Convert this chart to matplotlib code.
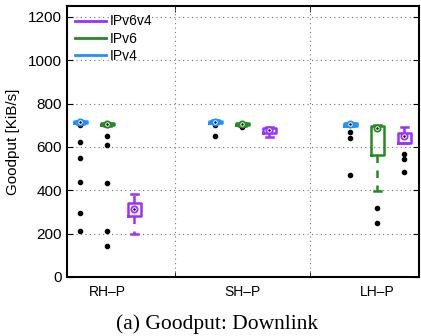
import numpy as np
import matplotlib; matplotlib.use("Agg")
import matplotlib.pyplot as plt

# categories and series
groups = ["RH\u2013P", "SH\u2013P", "LH\u2013P"]
series = ["IPv4", "IPv6", "IPv6v4"]
colors = {"IPv4": "#1E90FF", "IPv6": "#228B22", "IPv6v4": "#9B30FF"}

# box statistics per series, one entry per group (KiB/s)
med   = {"IPv4": [714, 717, 704], "IPv6": [704, 704, 689], "IPv6v4": [312, 677, 652]}
q1    = {"IPv4": [709, 712, 698], "IPv6": [700, 700, 563], "IPv6v4": [280, 665, 620]}
q3    = {"IPv4": [718, 721, 709], "IPv6": [708, 708, 698], "IPv6v4": [340, 688, 665]}
wlo   = {"IPv4": [706, 709, 695], "IPv6": [698, 697, 398], "IPv6v4": [198, 647, 617]}
whi   = {"IPv4": [721, 724, 712], "IPv6": [710, 711, 700], "IPv6v4": [382, 692, 691]}
fliers = {
    "IPv4":   [[701, 624, 548, 440, 294, 212], [701, 652], [668, 643, 468]],
    "IPv6":   [[700, 652, 609, 432, 212, 144], [695, 690], [317, 248]],
    "IPv6v4": [[], [], [566, 543, 483]],
}
offset = {"IPv4": -0.2, "IPv6": 0.0, "IPv6v4": 0.2}

plt.rcParams["font.family"] = ["Liberation Sans", "DejaVu Sans"]
fig = plt.figure(figsize=(4.21, 3.36), dpi=100)
ax = fig.add_axes([0.159, 0.176, 0.837, 0.806])

for s in series:
    c = colors[s]
    stats = []
    for i in range(len(groups)):
        stats.append(dict(med=med[s][i], q1=q1[s][i], q3=q3[s][i],
                          whislo=wlo[s][i], whishi=whi[s][i], fliers=[]))
    pos = np.arange(1, len(groups) + 1) + offset[s]
    ax.bxp(stats, positions=pos, widths=0.1, showfliers=False,
           boxprops=dict(color=c, lw=1.8),
           whiskerprops=dict(color=c, lw=1.8, ls=(0, (3, 3))),
           capprops=dict(color=c, lw=1.8),
           medianprops=dict(color=c, lw=0), manage_ticks=False)
    ax.plot(pos, med[s], "o", ms=4.5, mfc="white", mec=c, mew=1.3, zorder=4)
    ax.plot(pos, med[s], ".", ms=1.5, color="k", zorder=5)
    for i, fl in enumerate(fliers[s]):
        ax.plot([pos[i]] * len(fl), fl, "o", ms=3, color="k", zorder=3)
    ax.plot([], [], color=c, lw=2, label=s)

ax.set_xlim(0.7, 3.31)
ax.set_ylim(0, 1250)
ax.set_yticks(range(0, 1201, 200))
ax.set_xticks([1, 2, 3])
ax.set_xticklabels(groups, fontsize=10)
ax.set_xticks([1.5, 2.5], minor=True)
ax.tick_params(axis="x", which="major", length=0, pad=6)
ax.tick_params(axis="x", which="minor", direction="in", length=4, top=True)
ax.tick_params(axis="y", direction="in", length=4, right=True, labelsize=11)
ax.yaxis.grid(True, ls=(0, (1, 3)), color="0.45", lw=0.8)
for x in [1.5, 2.5]:
    ax.axvline(x, ls=(0, (1, 3)), color="0.45", lw=0.8)
ax.set_ylabel("Goodput [KiB/s]", fontsize=11, labelpad=6)
for sp in ax.spines.values():
    sp.set_linewidth(1.5)

h, l = ax.get_legend_handles_labels()
ax.legend(h[::-1], l[::-1], loc="upper left", frameon=False, fontsize=10,
          handlelength=2.2, handletextpad=0.3, labelspacing=0.25,
          borderaxespad=0.2)

fig.text(0.515, 0.022, "(a) Goodput: Downlink", ha="center",
         fontsize=15.5, family=["Liberation Serif", "DejaVu Serif"])

fig.savefig("out.png", dpi=100)
